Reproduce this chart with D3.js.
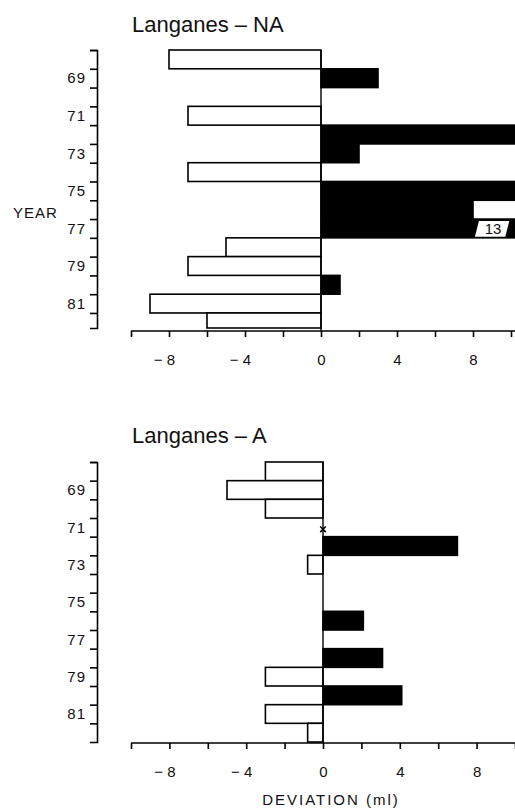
<!DOCTYPE html>
<html lang="en">
  <head>
    <meta charset="utf-8">
    <title>Langanes deviations</title>
    <script src="https://d3js.org/d3.v7.min.js"></script>
    <style>
      body { margin: 0; background: #fff; }
      text { font-family: "Liberation Sans", Arial, sans-serif; fill: #111; }
    </style>
  </head>
  <body>
    <div id='container' style="width:515px; height:809px"></div>
    <script>
      width = 515;
      height = 809;

      // data
      years = [1968, 1969, 1970, 1971, 1972, 1973, 1974, 1975, 1976, 1977, 1978, 1979, 1980, 1981, 1982];
      naValues = [-8, 3, 0, -7, 11, 2, -7, 11, 8, 13, -5, -7, 1, -9, -6];
      aValues = [-3, -5, -3, null, 7, -0.8, 0, 0, 2.1, 0, 3.1, -3, 4.1, -3, -0.8];
      yearLabels = [1969, 1971, 1973, 1975, 1977, 1979, 1981];
      xTicks = [-10, -8, -6, -4, -2, 0, 2, 4, 6, 8, 10];
      xLabels = [-8, -4, 0, 4, 8];

      svg = d3.select('#container').append("svg")
          .attr("width", width)
          .attr("height", height)
          .attr("viewBox", [0, 0, width, height]);

      function panel(opts) {
        const {title, titleY, values, yDomainEnd, yRange, xRange, axisY, xLabelY, xMax} = opts;
        const data = years.map((yr, i) => ({year: yr, value: values[i]}));

        const x = d3.scaleLinear().domain([-10, 10]).range(xRange);
        const y = d3.scaleLinear().domain([1968, yDomainEnd]).range(yRange);
        const yBottom = yRange[1];

        const g = svg.append("g");

        g.append("text")
            .attr("x", 132)
            .attr("y", titleY)
            .attr("font-size", 22)
            .text(title);

        // bars
        const bars = data.filter(d => d.value !== null && d.value !== 0);
        g.append("g")
          .selectAll("rect")
          .data(bars)
          .join("rect")
            .attr("x", d => x(Math.min(0, d.value)))
            .attr("y", d => y(d.year))
            .attr("width", d => Math.abs(x(d.value) - x(0)))
            .attr("height", d => Math.min(y(d.year + 1), yBottom) - y(d.year))
            .attr("fill", d => d.value > 0 ? "#000" : "#fff")
            .attr("stroke", "#000")
            .attr("stroke-width", 1.6);

        // off-scale values get a label box
        const big = data.filter(d => d.value !== null && d.value > xMax);
        const lab = g.append("g").selectAll("g").data(big).join("g");
        lab.append("path")
            .attr("d", d => {
              const t = y(d.year) + 2, b = y(d.year + 1) - 1;
              const l = x(8.1), r = x(9.7);
              return `M${l},${b}L${l + 4},${t}L${r + 4},${t}L${r},${b}Z`;
            })
            .attr("fill", "#fff");
        lab.append("text")
            .attr("x", d => x(8.95) + 2)
            .attr("y", d => y(d.year + 1) - 4)
            .attr("text-anchor", "middle")
            .attr("font-size", 15)
            .text(d => d.value);

        // missing year marker
        g.append("g")
          .selectAll("path")
          .data(data.filter(d => d.value === null))
          .join("path")
            .attr("transform", d => `translate(${x(0)},${y(d.year + 0.5) + 2})`)
            .attr("d", d3.symbol(d3.symbolX, 22))
            .attr("stroke", "#000")
            .attr("stroke-width", 1.6);

        // zero line
        g.append("line")
            .attr("x1", x(0)).attr("x2", x(0))
            .attr("y1", yRange[0]).attr("y2", axisY)
            .attr("stroke", "#000")
            .attr("stroke-width", 1.4);

        // y axis: ticks at year edges, labels in the middle of the band
        g.append("g")
            .attr("transform", "translate(97,0)")
            .call(d3.axisLeft(y).tickValues(years).tickSize(7).tickSizeOuter(7).tickFormat(""))
            .call(a => a.selectAll("path, line").attr("stroke-width", 1.6));

        g.append("g")
            .attr("transform", "translate(97,0)")
            .call(d3.axisLeft(y).tickValues(yearLabels.map(v => v + 0.5)).tickSize(0).tickPadding(11)
              .tickFormat(v => String(Math.floor(v)).slice(2)))
            .call(a => a.select(".domain").remove())
            .call(a => a.selectAll("text")
              .attr("font-size", 15)
              .attr("letter-spacing", 1)
              .attr("font-family", "Liberation Sans, Arial, sans-serif"));

        // x axis
        g.append("g")
            .attr("transform", `translate(0,${axisY})`)
            .call(d3.axisBottom(x).tickValues(xTicks).tickSize(6).tickSizeOuter(0).tickPadding(17)
              .tickFormat(v => xLabels.includes(v) ? (v < 0 ? "\u2212 " + (-v) : String(v)) : ""))
            .call(a => a.select(".domain").attr("d", `M${x(-10)},0H${width + 5}`))
            .call(a => a.selectAll("path, line").attr("stroke-width", 1.6))
            .call(a => a.selectAll("text")
              .attr("font-size", 15)
              .attr("font-family", "Liberation Sans, Arial, sans-serif")
              .attr("dx", v => v < 0 ? -5 : 0));
      }

      panel({
        title: "Langanes \u2013 NA",
        titleY: 32,
        values: naValues,
        yDomainEnd: 1982.8,
        yRange: [50, 328],
        xRange: [131, 511],
        axisY: 331,
        xMax: 12
      });

      panel({
        title: "Langanes \u2013 A",
        titleY: 443,
        values: aValues,
        yDomainEnd: 1983,
        yRange: [462, 742],
        xRange: [131, 515],
        axisY: 743,
        xMax: 12
      });

      svg.append("text")
          .attr("x", 13)
          .attr("y", 218)
          .attr("font-size", 15)
          .attr("letter-spacing", 1)
          .text("YEAR");

      svg.append("text")
          .attr("x", 331)
          .attr("y", 805)
          .attr("text-anchor", "middle")
          .attr("font-size", 15)
          .attr("letter-spacing", 2)
          .text("DEVIATION (ml)");
    </script>
  </body>
</html>
